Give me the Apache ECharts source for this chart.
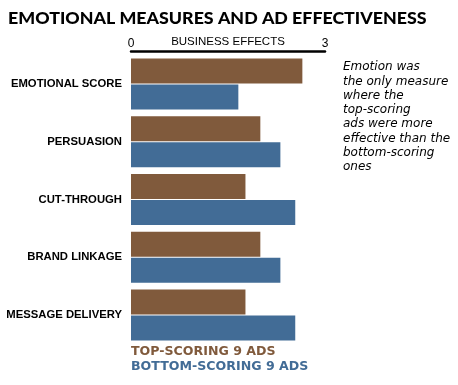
<!DOCTYPE html>
<html>
<head>
<meta charset="utf-8">
<script src="https://cdn.jsdelivr.net/npm/echarts@6/dist/echarts.min.js"></script>
<style>html,body{margin:0;padding:0;background:#fff}#c{width:458px;height:385px}</style>
</head>
<body>
<div id="c"></div>
<script>
const categories = ['EMOTIONAL SCORE', 'PERSUASION', 'CUT-THROUGH', 'BRAND LINKAGE', 'MESSAGE DELIVERY'];
const topScoring = [2.65, 2.0, 1.77, 2.0, 1.77];
const bottomScoring = [1.66, 2.31, 2.54, 2.31, 2.54];
const seriesNames = ['TOP-SCORING 9 ADS', 'BOTTOM-SCORING 9 ADS'];
const axisTitle = 'BUSINESS EFFECTS';
const title = 'EMOTIONAL MEASURES AND AD EFFECTIVENESS';
const note = 'Emotion was\nthe only measure\nwhere the\ntop-scoring\nads were more\neffective than the\nbottom-scoring\nones';

const BROWN = '#805a3c', BLUE = '#426c96';
const lib = '"Liberation Sans", Arial, sans-serif';

const chart = echarts.init(document.getElementById('c'), null, {renderer: 'canvas'});
chart.setOption({
  backgroundColor: '#fff',
  animation: false,
  title: {
    text: title, left: 3, top: 4,
    textStyle: {fontFamily: 'Lato, "Liberation Sans", sans-serif', fontWeight: 900, fontSize: 17.8, color: '#000'}
  },
  grid: {left: 131, right: 133, top: 55, height: 289, containLabel: false, outerBoundsMode: 'none'},
  xAxis: {
    type: 'value', position: 'top', min: 0, max: 3, interval: 3, offset: 4,
    name: axisTitle, nameLocation: 'middle', nameGap: 3, nameMoveOverlap: false,
    nameTextStyle: {fontFamily: lib, fontSize: 11.5, color: '#000', verticalAlign: 'bottom'},
    axisLine: {show: true, lineStyle: {color: '#000', width: 2.5}},
    axisTick: {show: false},
    splitLine: {show: false},
    axisLabel: {fontFamily: lib, fontSize: 12, color: '#000', margin: 1}
  },
  yAxis: {
    type: 'category', inverse: true, data: categories,
    axisLine: {show: false}, axisTick: {show: false}, splitLine: {show: false},
    axisLabel: {fontFamily: lib, fontWeight: 'bold', fontSize: 11.3, color: '#000', margin: 9}
  },
  series: [
    {name: seriesNames[0], type: 'bar', data: topScoring, barWidth: 25, barGap: '4%', itemStyle: {color: BROWN}},
    {name: seriesNames[1], type: 'bar', data: bottomScoring, barWidth: 25, barGap: '4%', itemStyle: {color: BLUE}}
  ],
  graphic: [
    {type: 'text', left: 131, top: 345, style: {text: seriesNames[0], fill: BROWN, font: 'bold 12.6px "DejaVu Sans", sans-serif'}},
    {type: 'text', left: 131, top: 360, style: {text: seriesNames[1], fill: BLUE, font: 'bold 12.6px "DejaVu Sans", sans-serif'}},
    {type: 'text', left: 343, top: 60, style: {text: note, fill: '#000', font: 'italic 12px "DejaVu Sans", sans-serif', lineHeight: 14.3}}
  ]
});
</script>
</body>
</html>
